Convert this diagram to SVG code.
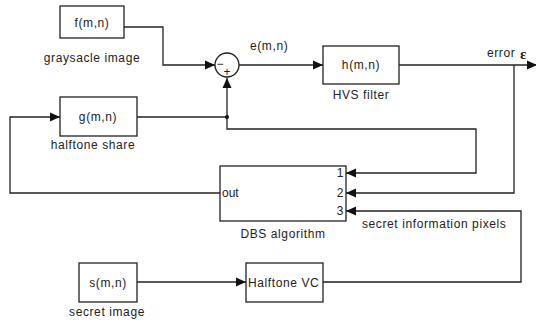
<svg xmlns="http://www.w3.org/2000/svg" width="536" height="322" viewBox="0 0 536 322">
<style>
.box{fill:#fff;stroke:#222;stroke-width:1.3}
.ln{fill:none;stroke:#222;stroke-width:1.3}
text{font-family:"Liberation Sans",Arial,sans-serif;font-size:12px;letter-spacing:0.6px;fill:#222}
.c{text-anchor:middle}
.r{text-anchor:end}
</style>
<defs>
<marker id="ah" markerWidth="10" markerHeight="10" refX="10" refY="5" orient="auto" markerUnits="userSpaceOnUse">
<path d="M0,0.5 L10,5 L0,9.5 Z" fill="#111"/>
</marker>
</defs>
<rect width="536" height="322" fill="#fff"/>
<g id="connectors">
<polyline class="ln" points="124,27 163,27 163,65 215,65" marker-end="url(#ah)"/>
<polyline class="ln" points="137,117 227,117 227,78" marker-end="url(#ah)"/>
<polyline class="ln" points="239,65 323,65" marker-end="url(#ah)"/>
<polyline class="ln" points="399,65 537,65" marker-end="url(#ah)"/>
<polyline class="ln" points="227,117 227,129 476,129 476,173 346,173" marker-end="url(#ah)"/>
<polyline class="ln" points="514,65 514,193 346,193" marker-end="url(#ah)"/>
<polyline class="ln" points="323,282 521,282 521,211 346,211" marker-end="url(#ah)"/>
<polyline class="ln" points="137,282 246,282" marker-end="url(#ah)"/>
<polyline class="ln" points="220,193 10,193 10,117 60,117" marker-end="url(#ah)"/>
<circle cx="227" cy="117" r="2" fill="#111"/>
<text x="250" y="50">e(m,n)</text>
<text x="487" y="57">error</text>
<text x="520" y="59" style="font-family:'Liberation Serif',serif;font-weight:bold;font-size:15px;letter-spacing:0">ε</text>
<text x="362" y="228">secret information pixels</text>
</g>
<g id="f">
<rect class="box" x="60" y="6" width="64" height="32"/>
<text class="c" x="92" y="27">f(m,n)</text>
<text class="c" x="92" y="62">graysacle image</text>
</g>
<g id="sum">
<circle class="box" cx="227" cy="65" r="12"/>
<text class="c" x="220" y="68" style="letter-spacing:0">−</text>
<text class="c" x="227" y="76" style="letter-spacing:0">+</text>
</g>
<g id="h">
<rect class="box" x="323" y="46" width="76" height="38"/>
<text class="c" x="361" y="69">h(m,n)</text>
<text class="c" x="361" y="99">HVS filter</text>
</g>
<g id="g">
<rect class="box" x="60" y="97" width="77" height="39"/>
<text class="c" x="98" y="121">g(m,n)</text>
<text class="c" x="93" y="149">halftone share</text>
</g>
<g id="dbs">
<rect class="box" x="220" y="166" width="126" height="55"/>
<text x="222" y="197" style="letter-spacing:0">out</text>
<text class="r" x="344" y="177">1</text>
<text class="r" x="344" y="197">2</text>
<text class="r" x="344" y="215">3</text>
<text class="c" x="283" y="238">DBS algorithm</text>
</g>
<g id="s">
<rect class="box" x="79" y="263" width="58" height="39"/>
<text class="c" x="108" y="287">s(m,n)</text>
<text class="c" x="107" y="316">secret image</text>
</g>
<g id="hvc">
<rect class="box" x="246" y="263" width="77" height="39"/>
<text x="248" y="287">Halftone VC</text>
</g>
</svg>
